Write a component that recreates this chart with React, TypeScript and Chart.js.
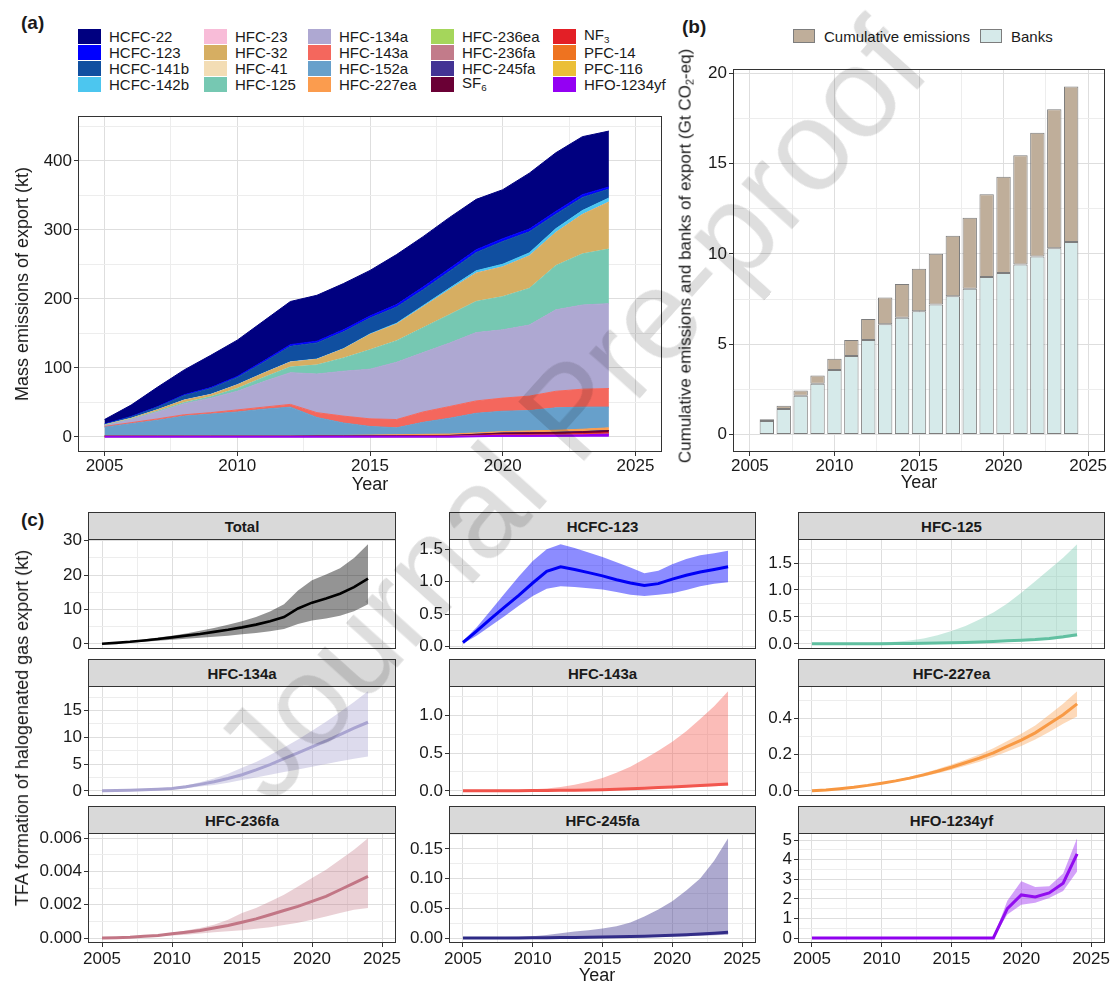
import React, { useEffect, useRef } from "react";
import { Chart, registerables } from "chart.js";
Chart.register(...registerables);

const FONT = "'Liberation Sans', Arial, Helvetica, sans-serif";

// ---------- shared axes ----------
const years = [2005, 2006, 2007, 2008, 2009, 2010, 2011, 2012, 2013, 2014, 2015, 2016, 2017, 2018, 2019, 2020, 2021, 2022, 2023, 2024];
const xTicks = [2005, 2010, 2015, 2020, 2025];
const xTickLabels = ["2005", "2010", "2015", "2020", "2025"];

// ---------- panel (a): mass emissions of export (kt) ----------
const hcfc22 = [6.5, 16.5, 28.3, 36, 46.8, 52.5, 58, 62.5, 66.5, 67, 66, 72.5, 73, 74, 73, 71, 81, 85, 84, 81];
const hcfc123 = [0.5, 0.5, 0.7, 1, 1.2, 1.5, 2, 2.5, 2.5, 3, 3, 3.5, 4, 4, 4, 4, 4, 4, 4, 3];
const hcfc141b = [0.7, 2.2, 3.7, 6.6, 8.5, 10.5, 15.5, 22.4, 23.4, 24.3, 23, 23.5, 23, 24.5, 26.5, 33, 30.5, 21, 19, 13];
const hcfc142b = [0.2, 0.2, 0.2, 0.3, 0.4, 0.4, 0.4, 0.5, 0.5, 0.6, 0.9, 1.4, 1.9, 2.4, 3.4, 3.9, 4.4, 5.5, 5.8, 5.9];
const hfc23 = [0.1, 0.1, 0.1, 0.1, 0.1, 0.1, 0.1, 0.1, 0.1, 0.1, 0.1, 0.1, 0.1, 0.1, 0.1, 0.1, 0.1, 0.1, 0.1, 0.1];
const hfc32 = [0.5, 0.8, 2, 3.4, 3, 5, 6, 7, 8, 13, 22, 24, 30, 36, 41, 43, 47, 48, 57, 68];
const hfc41 = [0.1, 0.1, 0.1, 0.1, 0.1, 0.1, 0.1, 0.1, 0.1, 0.1, 0.1, 0.1, 0.1, 0.1, 0.1, 0.1, 0.1, 0.1, 0.1, 0.1];
const hfc125 = [0.5, 0.6, 1, 1.5, 2, 4, 6, 8, 13, 19, 28, 31, 36, 41, 45, 48, 53, 64, 74, 79];
const hfc134a = [1, 4.5, 10, 16, 21, 27, 37, 46, 56, 65, 72, 83, 86, 92, 99, 99, 103, 118, 122, 123];
const hfc143a = [1, 1.5, 2, 2, 2, 3, 3, 4, 7, 10, 11, 12, 15, 17, 18, 19, 21, 24, 26, 27];
const hfc152a = [12.5, 17.5, 22.5, 28.5, 31.5, 34.5, 38.5, 41.5, 26, 18, 12.5, 10, 17.5, 23, 28.5, 29.5, 29.5, 32.5, 32, 30];
const hfc227ea = [0.6, 0.6, 0.6, 0.6, 0.6, 0.6, 0.6, 0.6, 0.8, 0.8, 1.1, 1.5, 1.7, 1.9, 1.8, 2.0, 2.5, 3.0, 3.4, 3.8];
const hfc236ea = [0.04, 0.04, 0.04, 0.04, 0.04, 0.04, 0.04, 0.04, 0.04, 0.04, 0.04, 0.04, 0.04, 0.04, 0.04, 0.04, 0.04, 0.04, 0.04, 0.04];
const hfc236fa = [0.01, 0.01, 0.01, 0.01, 0.01, 0.01, 0.01, 0.01, 0.01, 0.01, 0.01, 0.01, 0.01, 0.01, 0.01, 0.01, 0.01, 0.01, 0.01, 0.01];
const hfc245fa = [0.05, 0.05, 0.05, 0.05, 0.06, 0.06, 0.07, 0.07, 0.08, 0.08, 0.09, 0.1, 0.1, 0.11, 0.12, 0.14, 0.15, 0.17, 0.18, 0.2];
const sf6 = [0.3, 0.3, 0.3, 0.3, 0.3, 0.3, 0.3, 0.3, 0.4, 0.4, 0.5, 0.6, 0.7, 0.9, 1.4, 2.2, 2.4, 2.5, 2.7, 3.0];
const nf3 = [0.2, 0.2, 0.2, 0.2, 0.2, 0.2, 0.2, 0.2, 0.3, 0.3, 0.4, 0.4, 0.5, 0.5, 0.7, 0.9, 1.0, 1.1, 1.3, 1.5];
const pfc14 = [0.2, 0.2, 0.2, 0.2, 0.2, 0.2, 0.2, 0.2, 0.3, 0.3, 0.3, 0.3, 0.4, 0.4, 0.5, 0.6, 0.6, 0.7, 0.8, 0.9];
const pfc116 = [0.1, 0.1, 0.1, 0.1, 0.1, 0.1, 0.1, 0.1, 0.1, 0.1, 0.1, 0.1, 0.1, 0.1, 0.2, 0.2, 0.2, 0.2, 0.3, 0.3];
const hfo1234yf = [0, 0, 0, 0, 0, 0, 0, 0, 0, 0, 0, 0, 0, 0, 0.8, 1.5, 1.6, 1.8, 2.3, 3.3];

const aNames = ["HCFC-22", "HCFC-123", "HCFC-141b", "HCFC-142b", "HFC-23", "HFC-32", "HFC-41", "HFC-125", "HFC-134a", "HFC-143a", "HFC-152a", "HFC-227ea", "HFC-236ea", "HFC-236fa", "HFC-245fa", "SF6", "NF3", "PFC-14", "PFC-116", "HFO-1234yf"];
const aSeries = [hcfc22, hcfc123, hcfc141b, hcfc142b, hfc23, hfc32, hfc41, hfc125, hfc134a, hfc143a, hfc152a, hfc227ea, hfc236ea, hfc236fa, hfc245fa, sf6, nf3, pfc14, pfc116, hfo1234yf];
const aColors = ["#000080", "#0000ff", "#104fa0", "#4cc6ef", "#f8bcd8", "#d6ae62", "#f3ddb5", "#76c8b2", "#aea8d2", "#f4675d", "#67a0cb", "#fb9c4e", "#a5d65b", "#c27b8a", "#433394", "#6a0035", "#e31f26", "#ee7320", "#ebbf37", "#9400f3"];
const aTicks = [0, 100, 200, 300, 400];
const aTickLabels = ["0", "100", "200", "300", "400"];

// ---------- panel (b): cumulative emissions and banks (Gt CO2-eq) ----------
const barYears = [2006, 2007, 2008, 2009, 2010, 2011, 2012, 2013, 2014, 2015, 2016, 2017, 2018, 2019, 2020, 2021, 2022, 2023, 2024];
const banks = [0.75, 1.41, 2.15, 2.81, 3.58, 4.35, 5.23, 6.11, 6.46, 6.83, 7.19, 7.65, 8.07, 8.72, 8.94, 9.41, 9.85, 10.31, 10.66];
const cumulativeEmissions = [0.1, 0.19, 0.29, 0.46, 0.62, 0.88, 1.17, 1.47, 1.87, 2.34, 2.81, 3.35, 3.93, 4.58, 5.32, 6.04, 6.85, 7.69, 8.59];
const bTicks = [0, 5, 10, 15, 20];
const bTickLabels = ["0", "5", "10", "15", "20"];

// ---------- panel (c): TFA formation (kt) ----------
const totalMid = [0.05, 0.3, 0.6, 1.0, 1.4, 1.9, 2.4, 2.9, 3.5, 4.1, 4.8, 5.6, 6.6, 7.8, 10.3, 12.0, 13.2, 14.6, 16.5, 19.0];
const totalLo = [0.02, 0.15, 0.35, 0.6, 0.9, 1.2, 1.5, 1.8, 2.1, 2.4, 2.8, 3.2, 3.7, 4.3, 5.8, 6.8, 7.4, 8.2, 9.5, 11.5];
const totalHi = [0.1, 0.45, 0.85, 1.3, 1.85, 2.4, 3.0, 3.8, 4.6, 5.6, 6.6, 7.8, 9.4, 11.5, 15.5, 18.5, 20.2, 22.0, 25.0, 29.0];
const totalTicks = [0, 10, 20, 30];
const totalTickLabels = ["0", "10", "20", "30"];

const hcfc123Mid = [0.06, 0.24, 0.43, 0.61, 0.79, 0.98, 1.16, 1.23, 1.19, 1.14, 1.09, 1.03, 0.98, 0.94, 0.97, 1.04, 1.1, 1.15, 1.19, 1.23];
const hcfc123Lo = [0.04, 0.17, 0.32, 0.47, 0.63, 0.78, 0.89, 0.93, 0.92, 0.9, 0.88, 0.84, 0.8, 0.78, 0.8, 0.82, 0.87, 0.93, 0.97, 0.99];
const hcfc123Hi = [0.08, 0.3, 0.56, 0.82, 1.08, 1.32, 1.5, 1.58, 1.52, 1.45, 1.38, 1.3, 1.22, 1.13, 1.17, 1.27, 1.35, 1.41, 1.44, 1.48];
const hcfc123Ticks = [0, 0.5, 1, 1.5];
const hcfc123TickLabels = ["0.0", "0.5", "1.0", "1.5"];

const hfc125Mid = [0, 0, 0, 0.001, 0.002, 0.003, 0.005, 0.007, 0.01, 0.014, 0.02, 0.026, 0.035, 0.045, 0.055, 0.066, 0.08, 0.1, 0.13, 0.17];
const hfc125Lo = [0, 0, 0, 0, 0.001, 0.002, 0.003, 0.005, 0.007, 0.01, 0.014, 0.019, 0.025, 0.032, 0.04, 0.05, 0.06, 0.075, 0.1, 0.14];
const hfc125Hi = [0, 0.002, 0.005, 0.01, 0.015, 0.025, 0.04, 0.06, 0.1, 0.16, 0.24, 0.33, 0.45, 0.58, 0.75, 0.95, 1.16, 1.38, 1.6, 1.85];
const hfc125Ticks = [0, 0.5, 1, 1.5];
const hfc125TickLabels = ["0.0", "0.5", "1.0", "1.5"];

const hfc134aMid = [0, 0.05, 0.1, 0.2, 0.3, 0.45, 0.75, 1.2, 1.7, 2.3, 3.0, 3.9, 4.9, 6.0, 7.1, 8.2, 9.3, 10.5, 11.7, 12.8];
const hfc134aLo = [0, 0.04, 0.08, 0.15, 0.22, 0.32, 0.5, 0.8, 1.1, 1.5, 2.0, 2.5, 3.0, 3.5, 4.0, 4.5, 5.0, 5.5, 6.0, 6.4];
const hfc134aHi = [0, 0.06, 0.12, 0.25, 0.4, 0.6, 1.0, 1.6, 2.3, 3.2, 4.3, 5.4, 6.7, 8.1, 9.6, 11.2, 12.9, 14.7, 16.6, 18.6];
const hfc134aTicks = [0, 5, 10, 15];
const hfc134aTickLabels = ["0", "5", "10", "15"];

const hfc143aMid = [0, 0, 0.001, 0.001, 0.002, 0.003, 0.004, 0.006, 0.008, 0.011, 0.015, 0.02, 0.027, 0.035, 0.043, 0.052, 0.061, 0.07, 0.08, 0.09];
const hfc143aLo = [0, 0, 0, 0.001, 0.001, 0.002, 0.003, 0.004, 0.006, 0.008, 0.011, 0.015, 0.02, 0.026, 0.032, 0.039, 0.046, 0.053, 0.06, 0.068];
const hfc143aHi = [0, 0.001, 0.002, 0.005, 0.01, 0.02, 0.03, 0.05, 0.08, 0.12, 0.17, 0.24, 0.32, 0.42, 0.53, 0.65, 0.79, 0.95, 1.12, 1.32];
const hfc143aTicks = [0, 0.5, 1];
const hfc143aTickLabels = ["0.0", "0.5", "1.0"];

const hfc227eaMid = [0, 0.005, 0.012, 0.02, 0.03, 0.042, 0.055, 0.07, 0.088, 0.108, 0.13, 0.155, 0.18, 0.21, 0.245, 0.28, 0.32, 0.37, 0.42, 0.48];
const hfc227eaLo = [0, 0.004, 0.011, 0.018, 0.027, 0.038, 0.05, 0.063, 0.079, 0.097, 0.116, 0.138, 0.16, 0.187, 0.217, 0.248, 0.283, 0.325, 0.37, 0.41];
const hfc227eaHi = [0, 0.006, 0.013, 0.022, 0.033, 0.046, 0.06, 0.077, 0.097, 0.12, 0.145, 0.172, 0.2, 0.235, 0.275, 0.315, 0.36, 0.42, 0.48, 0.55];
const hfc227eaTicks = [0, 0.2, 0.4];
const hfc227eaTickLabels = ["0.0", "0.2", "0.4"];

const hfc236faMid = [0, 0.00002, 0.00005, 0.0001, 0.00015, 0.00025, 0.00035, 0.00045, 0.0006, 0.00075, 0.00095, 0.00115, 0.0014, 0.00165, 0.0019, 0.0022, 0.0025, 0.0029, 0.0033, 0.0037];
const hfc236faLo = [0, 0.00001, 0.00003, 0.00006, 0.0001, 0.00015, 0.0002, 0.00027, 0.00034, 0.0004, 0.00047, 0.00055, 0.00065, 0.00078, 0.00092, 0.0011, 0.0013, 0.0015, 0.0017, 0.0018];
const hfc236faHi = [0, 0.00003, 0.00007, 0.00013, 0.0002, 0.0003, 0.00045, 0.0006, 0.0008, 0.0011, 0.0015, 0.0018, 0.0022, 0.0026, 0.0031, 0.0036, 0.0041, 0.0047, 0.0053, 0.006];
const hfc236faTicks = [0, 0.002, 0.004, 0.006];
const hfc236faTickLabels = ["0.000", "0.002", "0.004", "0.006"];

const hfc245faMid = [0, 0, 0, 0, 0.0002, 0.0004, 0.0006, 0.0008, 0.001, 0.0013, 0.0016, 0.002, 0.0025, 0.003, 0.0037, 0.0045, 0.0055, 0.0066, 0.008, 0.0095];
const hfc245faLo = [0, 0, 0, 0, 0, 0.0001, 0.0002, 0.0003, 0.0004, 0.0005, 0.0007, 0.0009, 0.0012, 0.0015, 0.002, 0.0025, 0.003, 0.0037, 0.0045, 0.0055];
const hfc245faHi = [0, 0.0005, 0.001, 0.0015, 0.002, 0.003, 0.005, 0.008, 0.011, 0.013, 0.016, 0.02, 0.026, 0.036, 0.048, 0.062, 0.08, 0.1, 0.13, 0.168];
const hfc245faTicks = [0, 0.05, 0.1, 0.15];
const hfc245faTickLabels = ["0.00", "0.05", "0.10", "0.15"];

const hfo1234yfMid = [0, 0, 0, 0, 0, 0, 0, 0, 0, 0, 0, 0, 0, 0, 1.5, 2.2, 2.1, 2.3, 2.8, 4.3];
const hfo1234yfLo = [0, 0, 0, 0, 0, 0, 0, 0, 0, 0, 0, 0, 0, 0, 1.2, 1.7, 1.8, 2.05, 2.4, 3.4];
const hfo1234yfHi = [0, 0, 0, 0, 0, 0, 0, 0, 0, 0, 0, 0, 0, 0, 1.9, 2.9, 2.6, 2.65, 3.3, 5.1];
const hfo1234yfTicks = [0, 1, 2, 3, 4, 5];
const hfo1234yfTickLabels = ["0", "1", "2", "3", "4", "5"];

const facetNames = ["Total", "HCFC-123", "HFC-125", "HFC-134a", "HFC-143a", "HFC-227ea", "HFC-236fa", "HFC-245fa", "HFO-1234yf"];
const facetMid = [totalMid, hcfc123Mid, hfc125Mid, hfc134aMid, hfc143aMid, hfc227eaMid, hfc236faMid, hfc245faMid, hfo1234yfMid];
const facetLo = [totalLo, hcfc123Lo, hfc125Lo, hfc134aLo, hfc143aLo, hfc227eaLo, hfc236faLo, hfc245faLo, hfo1234yfLo];
const facetHi = [totalHi, hcfc123Hi, hfc125Hi, hfc134aHi, hfc143aHi, hfc227eaHi, hfc236faHi, hfc245faHi, hfo1234yfHi];
const facetTicks = [totalTicks, hcfc123Ticks, hfc125Ticks, hfc134aTicks, hfc143aTicks, hfc227eaTicks, hfc236faTicks, hfc245faTicks, hfo1234yfTicks];
const facetTickLabels = [totalTickLabels, hcfc123TickLabels, hfc125TickLabels, hfc134aTickLabels, hfc143aTickLabels, hfc227eaTickLabels, hfc236faTickLabels, hfc245faTickLabels, hfo1234yfTickLabels];

// ---------- styles ----------
const facetLine = ["#000000", "#0000ee", "#5fbf9f", "#a9a4d0", "#f0524a", "#f7963f", "#c27585", "#2d2a85", "#8f00ee"];
const facetBand = ["rgba(0,0,0,0.42)", "rgba(0,0,255,0.45)", "rgba(102,194,165,0.35)", "rgba(170,165,210,0.4)", "rgba(245,95,85,0.42)", "rgba(250,160,80,0.4)", "rgba(194,120,135,0.35)", "rgba(60,50,140,0.42)", "rgba(150,30,240,0.42)"];
const MAJOR = "#dedede";
const MINOR = "#ededed";
const TEXT = "#1a1a1a";

const framePlugin = {
  id: "frame",
  afterDraw(chart: any) {
    const { ctx, chartArea: a } = chart;
    ctx.save();
    ctx.strokeStyle = "#333333";
    ctx.lineWidth = 1;
    ctx.strokeRect(Math.round(a.left) + 0.5, Math.round(a.top) + 0.5, Math.round(a.right - a.left) - 1, Math.round(a.bottom - a.top) - 1);
    ctx.restore();
  },
};

function axis(o: { min: number; max: number; major: number[]; labels: string[]; size: number; show: boolean; fontSize?: number; stacked?: boolean; pad?: number }) {
  const step = o.major[1] - o.major[0];
  const vals: number[] = [...o.major];
  vals.push(o.major[0] - step / 2);
  for (const m of o.major) vals.push(m + step / 2);
  const tickVals = vals.filter((v) => v > o.min + step * 1e-6 && v < o.max - step * 1e-6).sort((a, b) => a - b);
  const majorIndex = (v: number) => o.major.findIndex((m) => Math.abs(m - v) < step * 1e-6);
  return {
    type: "linear",
    min: o.min,
    max: o.max,
    stacked: o.stacked,
    offset: false,
    afterBuildTicks: (s: any) => {
      s.ticks = tickVals.map((v) => ({ value: v }));
    },
    afterFit: (s: any) => {
      if (s.isHorizontal()) s.height = o.size;
      else s.width = o.size;
    },
    border: { display: false },
    grid: {
      offset: false,
      drawTicks: o.show,
      tickLength: 4,
      lineWidth: 1,
      color: (c: any) => (c.tick && majorIndex(c.tick.value) >= 0 ? MAJOR : MINOR),
      tickColor: (c: any) => (c.tick && majorIndex(c.tick.value) >= 0 ? "#333333" : "rgba(0,0,0,0)"),
    },
    ticks: {
      display: o.show,
      autoSkip: false,
      maxRotation: 0,
      padding: o.pad ?? 2,
      color: TEXT,
      font: { size: o.fontSize ?? 17, family: FONT },
      callback: (v: any) => {
        const i = majorIndex(Number(v));
        return i >= 0 ? o.labels[i] : "";
      },
    },
  };
}

function place(L: number, T: number, R: number, B: number, yW: number, xH: number, pt: number, pr: number, pb: number) {
  return {
    left: L - yW,
    top: T - pt,
    width: yW + (R - L) + pr,
    height: pt + (B - T) + xH + pb,
    padding: { left: 0, top: pt, right: pr, bottom: pb },
  };
}

function baseOptions(padding: any, x: any, y: any) {
  return {
    responsive: false,
    maintainAspectRatio: false,
    animation: false,
    devicePixelRatio: 1,
    events: [],
    layout: { padding },
    plugins: { legend: { display: false }, tooltip: { enabled: false } },
    elements: { point: { radius: 0 } },
    scales: { x, y },
  };
}

function ChartBox({ config, box }: { config: any; box: any }) {
  const ref = useRef<HTMLCanvasElement>(null);
  useEffect(() => {
    const chart = new Chart(ref.current as HTMLCanvasElement, config);
    return () => chart.destroy();
  }, []);
  return (
    <canvas
      ref={ref}
      width={box.width}
      height={box.height}
      style={{ position: "absolute", left: box.left, top: box.top, width: box.width, height: box.height }}
    />
  );
}

function Txt({ x, y, children, size = 17, bold = false, rotate = false, anchor = "center" }: any) {
  const tx = anchor === "left" ? "0" : "-50%";
  return (
    <div
      style={{
        position: "absolute",
        left: x,
        top: y,
        transform: `translate(${tx},-50%)${rotate ? " rotate(-90deg)" : ""}`,
        whiteSpace: "nowrap",
        fontSize: size,
        fontWeight: bold ? 700 : 400,
        lineHeight: 1,
        color: TEXT,
        fontFamily: FONT,
      }}
    >
      {children}
    </div>
  );
}

function labelNode(name: string) {
  if (name === "SF6") return <>SF<sub style={{ fontSize: "0.65em", verticalAlign: "-0.25em" }}>6</sub></>;
  if (name === "NF3") return <>NF<sub style={{ fontSize: "0.65em", verticalAlign: "-0.25em" }}>3</sub></>;
  return name;
}

function panelA() {
  const box = place(78, 116, 662, 452, 78, 26, 14, 14, 2);
  const n = aNames.length;
  const datasets = aNames.map((_, j) => {
    const k = n - 1 - j;
    return {
      label: aNames[k],
      data: years.map((x, i) => ({ x, y: aSeries[k][i] })),
      backgroundColor: aColors[k],
      borderColor: aColors[k],
      borderWidth: k === n - 1 ? 2 : 1,
      fill: j === 0 ? "origin" : "-1",
      pointRadius: 0,
      tension: 0,
    };
  });
  const x = axis({ min: 2004, max: 2026, major: xTicks, labels: xTickLabels, size: 26, show: true, pad: 0 });
  const y = axis({ min: -22, max: 465, major: aTicks, labels: aTickLabels, size: 78, show: true, stacked: true });
  return { box, config: { type: "line", data: { datasets }, options: baseOptions(box.padding, x, y), plugins: [framePlugin] } };
}

function panelB() {
  const box = place(733, 69, 1105, 452, 45, 26, 12, 8, 2);
  const totals = barYears.map((_, i) => banks[i] + cumulativeEmissions[i]);
  const maxV = Math.max(...totals);
  const common = { borderColor: "#7d7d7d", borderWidth: 1, borderSkipped: false, barPercentage: 0.85, categoryPercentage: 1 };
  const datasets = [
    { label: "Banks", data: barYears.map((x, i) => ({ x, y: banks[i] })), backgroundColor: "#d6eaea", ...common },
    { label: "Cumulative emissions", data: barYears.map((x, i) => ({ x, y: cumulativeEmissions[i] })), backgroundColor: "#bfae9a", ...common },
  ];
  const x = axis({ min: 2004, max: 2026, major: xTicks, labels: xTickLabels, size: 26, show: true, stacked: true, pad: 0 });
  const y = axis({ min: -maxV * 0.05, max: maxV * 1.05, major: bTicks, labels: bTickLabels, size: 45, show: true, stacked: true });
  return { box, config: { type: "bar", data: { datasets }, options: baseOptions(box.padding, x, y), plugins: [framePlugin] } };
}

const colL = [88, 449, 798];
const colR = [396, 756, 1105];
const stripTop = [512, 659, 806];
const STRIP_H = 27;
const PLOT_H = 110;

function facet(idx: number) {
  const col = idx % 3;
  const row = Math.floor(idx / 3);
  const L = colL[col], R = colR[col];
  const T = stripTop[row] + STRIP_H;
  const B = T + PLOT_H;
  const bottomRow = row === 2;
  const box = place(L, T, R, B, 62, bottomRow ? 24 : 0, 12, col === 2 ? 8 : 12, bottomRow ? 4 : 12);
  const lo = facetLo[idx], hi = facetHi[idx], mid = facetMid[idx];
  const dmin = Math.min(...lo), dmax = Math.max(...hi);
  const pad = (dmax - dmin) * 0.05;
  const pts = (arr: number[]) => years.map((x, i) => ({ x, y: arr[i] }));
  const datasets = [
    { data: pts(lo), borderColor: "rgba(0,0,0,0)", borderWidth: 0, pointRadius: 0, fill: false },
    { data: pts(hi), borderColor: "rgba(0,0,0,0)", borderWidth: 0, pointRadius: 0, fill: "-1", backgroundColor: facetBand[idx] },
    { data: pts(mid), borderColor: facetLine[idx], borderWidth: idx === 0 ? 2.6 : 3, pointRadius: 0, fill: false, borderCapStyle: "butt" },
  ];
  const x = axis({ min: 2004, max: 2026, major: xTicks, labels: xTickLabels, size: bottomRow ? 24 : 0, show: bottomRow });
  const y = axis({ min: dmin - pad, max: dmax + pad, major: facetTicks[idx], labels: facetTickLabels[idx], size: 62, show: true });
  return { box, L, R, row, col, config: { type: "line", data: { datasets }, options: baseOptions(box.padding, x, y), plugins: [framePlugin] } };
}

export default function App() {
  const a = panelA();
  const b = panelB();
  const facets = facetNames.map((_, i) => facet(i));
  const legendCols = [78, 204, 308, 431, 553];

  return (
    <div style={{ position: "absolute", left: 0, top: 0, width: 1113, height: 985, overflow: "hidden", background: "#ffffff", fontFamily: FONT }}>
      {/* panel labels */}
      <Txt x={21} y={22} size={19} bold anchor="left">(a)</Txt>
      <Txt x={682} y={26} size={19} bold anchor="left">(b)</Txt>
      <Txt x={21} y={519} size={19} bold anchor="left">(c)</Txt>

      {/* legend (a) */}
      {aNames.map((name, i) => {
        const c = Math.floor(i / 4);
        const r = i % 4;
        const left = legendCols[c];
        const cy = 36 + r * 16;
        return (
          <React.Fragment key={name}>
            <div style={{ position: "absolute", left, top: cy - 7.5, width: 23, height: 15, background: aColors[i] }} />
            <Txt x={left + 31} y={cy} size={15} anchor="left">{labelNode(name)}</Txt>
          </React.Fragment>
        );
      })}

      {/* legend (b) */}
      <div style={{ position: "absolute", left: 793, top: 29, width: 22, height: 14, background: "#bfae9a", border: "1px solid #7d7d7d", boxSizing: "border-box" }} />
      <Txt x={824} y={36} size={15} anchor="left">Cumulative emissions</Txt>
      <div style={{ position: "absolute", left: 980, top: 29, width: 22, height: 14, background: "#d6eaea", border: "1px solid #7d7d7d", boxSizing: "border-box" }} />
      <Txt x={1011} y={36} size={15} anchor="left">Banks</Txt>

      <ChartBox config={a.config} box={a.box} />
      <ChartBox config={b.config} box={b.box} />

      <Txt x={22} y={284} size={18} rotate>Mass emissions of export (kt)</Txt>
      <Txt x={370} y={484} size={18}>Year</Txt>
      <Txt x={686} y={256} size={17} rotate>
        Cumulative emissions and banks of export (Gt CO<sub style={{ fontSize: "0.65em", verticalAlign: "-0.25em" }}>2</sub>-eq)
      </Txt>
      <Txt x={919} y={482} size={18}>Year</Txt>

      {facets.map((f, i) => (
        <React.Fragment key={facetNames[i]}>
          <ChartBox config={f.config} box={f.box} />
          <div
            style={{
              position: "absolute",
              left: f.L,
              top: stripTop[f.row],
              width: f.R - f.L,
              height: STRIP_H + 1,
              background: "#d9d9d9",
              border: "1px solid #333333",
              boxSizing: "border-box",
              display: "flex",
              alignItems: "center",
              justifyContent: "center",
              fontWeight: 700,
              fontSize: 15,
              color: TEXT,
              fontFamily: FONT,
            }}
          >
            {facetNames[i]}
          </div>
        </React.Fragment>
      ))}

      <Txt x={22} y={728} size={18} rotate>TFA formation of halogenated gas export (kt)</Txt>
      <Txt x={597} y={975} size={18}>Year</Txt>

      {/* watermark */}
      <div
        style={{
          position: "absolute",
          left: 570,
          top: 410,
          transform: "translate(-50%,-50%) rotate(-48deg)",
          whiteSpace: "nowrap",
          fontSize: 128,
          fontFamily: FONT,
          color: "rgba(0,0,0,0.13)",
          pointerEvents: "none",
          lineHeight: 1,
        }}
      >
        Journal Pre-proof
      </div>
    </div>
  );
}
